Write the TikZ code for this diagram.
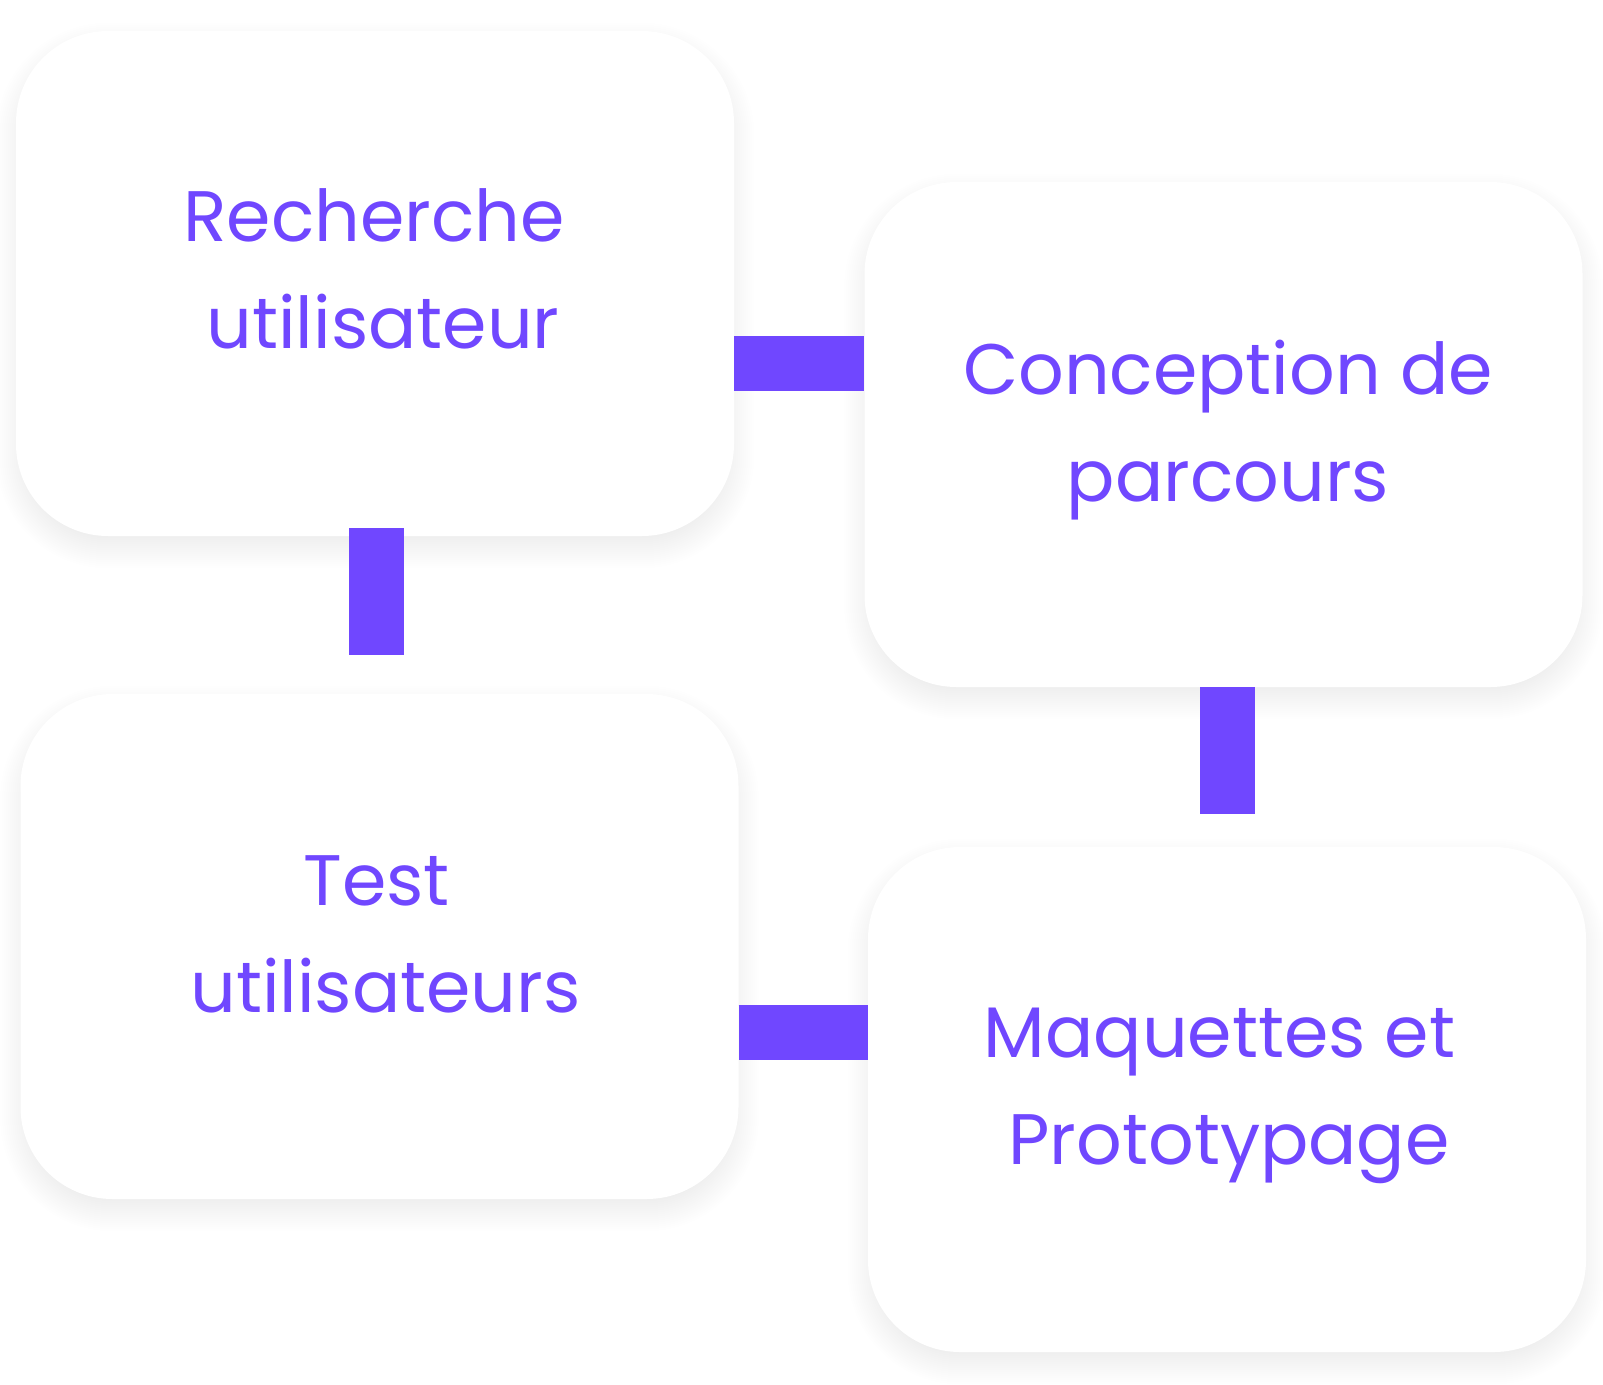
\documentclass[tikz,border=0pt]{standalone}
\usepackage{fontspec}
\setmainfont{Poppins}
\definecolor{brand}{HTML}{7047FF}
\pgfdeclarelayer{ground}
\pgfdeclarelayer{shade}
\pgfsetlayers{ground,shade,main}
\tikzset{
  card/.style={fill=white, draw=none, inner sep=0pt, minimum width=718pt, minimum height=505pt,
    rounded corners=92pt},
  label/.style={text=brand, align=center, anchor=base, inner sep=0pt,
    font=\fontsize{71.5}{107.5}\selectfont},
  bar/.style={draw=brand, line width=55pt, line cap=butt},
  shadelayer/.style={fill=black, fill opacity=0.0038, draw=none}
}
\newcommand\cardshade[1]{%
  \begin{pgfonlayer}{shade}
  \foreach \e [evaluate=\e as \r using 92+\e] in {-20,-18,...,20}{
    \fill[shadelayer, rounded corners=\r pt]
      ([xshift=-\e pt, yshift=-12pt-\e pt]#1.south west) rectangle
      ([xshift=\e pt, yshift=-12pt+\e pt]#1.north east);
  }
  \end{pgfonlayer}}
\begin{document}
\begin{tikzpicture}[x=1pt, y=-1pt]
\useasboundingbox (0,0) rectangle (1603,1384);
\begin{pgfonlayer}{ground}
\fill[white] (0,0) rectangle (1603,1384);
\end{pgfonlayer}
% cards
\node[card] (b1) at (375,283.5) {};
\node[card] (b2) at (1223.5,434.5) {};
\node[card] (b3) at (379.5,946.5) {};
\node[card] (b4) at (1227,1099.5) {};
\cardshade{b1}\cardshade{b2}\cardshade{b3}\cardshade{b4}
% texts
\node[label] (t1) at (383,348.5) {Recherche\hspace*{18pt}\\utilisateur};
\node[label] (t2) at (1228,501.5) {Conception de\\parcours};
\node[label] (t3) at (385.5,1012.5) {Test\hspace*{18pt}\\utilisateurs};
\node[label] (t4) at (1229,1164.5) {Maquettes et\hspace*{19pt}\\Prototypage};
% connectors
\draw[bar] ([yshift=-80pt]b1.east) -- ([yshift=-80pt]b1.east -| b2.west);
\draw[bar] ([yshift=8pt, xshift=1pt]b1.south) -- ++(0,127);
\draw[bar] ([xshift=4pt]b2.south) -- ++(0,127);
\draw[bar] ([yshift=-85.5pt]b3.east) -- ([yshift=-85.5pt]b3.east -| b4.west);
\end{tikzpicture}
\end{document}
